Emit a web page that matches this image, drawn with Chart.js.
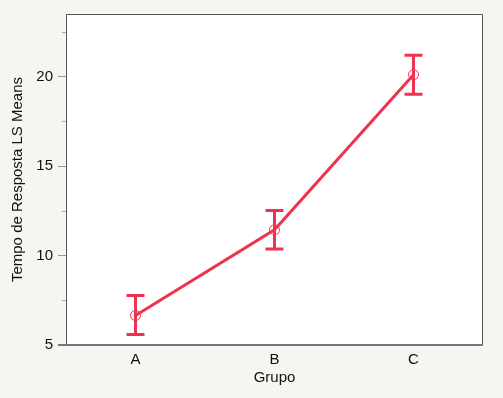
<!DOCTYPE html>
<html>
<head>
<meta charset="utf-8">
<script src="https://cdn.jsdelivr.net/npm/chart.js@4"></script>
<style>
  html, body { margin: 0; padding: 0; background: #f5f5f1; }
  #wrap { width: 503px; height: 398px; }
</style>
</head>
<body>
<div id="wrap"><canvas id="chart"></canvas></div>
<script>
// Dados
const grupos = ['A', 'B', 'C'];
const medias = [6.65, 11.44, 20.11];
const limInf = [5.58, 10.36, 19.02];
const limSup = [7.76, 12.52, 21.19];
const ticksMenores = [7.5, 12.5, 17.5, 22.5];

const vermelho = '#ee3350';

// fundo e moldura da area do grafico
const moldura = {
    id: 'moldura',
    beforeDraw(chart) {
        const { ctx, chartArea: a } = chart;
        ctx.save();
        ctx.fillStyle = '#f5f5f1';
        ctx.fillRect(0, 0, chart.width, chart.height);
        ctx.fillStyle = '#ffffff';
        ctx.fillRect(a.left, a.top, a.right - a.left, a.bottom - a.top);
        ctx.restore();
    },
    afterDraw(chart) {
        const { ctx, chartArea: a, scales } = chart;
        ctx.save();
        ctx.strokeStyle = '#555555';
        ctx.lineWidth = 1;
        ctx.beginPath();
        ctx.moveTo(a.left + 0.5, a.bottom);
        ctx.lineTo(a.left + 0.5, a.top + 0.5);
        ctx.lineTo(a.right - 0.5, a.top + 0.5);
        ctx.lineTo(a.right - 0.5, a.bottom);
        ctx.stroke();
        ctx.strokeStyle = '#777777';
        ctx.lineWidth = 2;
        ctx.beginPath();
        ctx.moveTo(a.left - 8, a.bottom);
        ctx.lineTo(a.right, a.bottom);
        ctx.stroke();
        // ticks menores
        ctx.strokeStyle = '#aaaaaa';
        ctx.lineWidth = 1;
        ticksMenores.forEach(v => {
            const y = Math.round(scales.y.getPixelForValue(v)) + 0.5;
            ctx.beginPath();
            ctx.moveTo(a.left - 4, y);
            ctx.lineTo(a.left, y);
            ctx.stroke();
        });
        ctx.restore();
    }
};

// barras de erro
const barrasErro = {
    id: 'barrasErro',
    afterDatasetsDraw(chart) {
        const { ctx, scales } = chart;
        ctx.save();
        ctx.strokeStyle = vermelho;
        ctx.lineWidth = 3;
        grupos.forEach((g, i) => {
            const x = scales.x.getPixelForValue(i);
            const y1 = scales.y.getPixelForValue(limInf[i]);
            const y2 = scales.y.getPixelForValue(limSup[i]);
            ctx.beginPath();
            ctx.moveTo(x, y1);
            ctx.lineTo(x, y2);
            ctx.moveTo(x - 9, y1);
            ctx.lineTo(x + 9, y1);
            ctx.moveTo(x - 9, y2);
            ctx.lineTo(x + 9, y2);
            ctx.stroke();
        });
        ctx.restore();
    }
};

Chart.defaults.font.family = '"Liberation Sans", Arial, sans-serif';
Chart.defaults.font.size = 15;
Chart.defaults.color = '#111111';

new Chart(document.getElementById('chart'), {
    type: 'line',
    data: {
        labels: grupos,
        datasets: [{
            data: medias,
            borderColor: vermelho,
            borderWidth: 3,
            pointRadius: 5,
            pointBorderWidth: 1,
            pointBorderColor: vermelho,
            pointBackgroundColor: 'rgba(0,0,0,0)',
            tension: 0
        }]
    },
    options: {
        animation: false,
        responsive: true,
        maintainAspectRatio: false,
        layout: { padding: { top: 11, right: 20, left: 0, bottom: 0 } },
        plugins: { legend: { display: false }, tooltip: { enabled: false } },
        scales: {
            x: {
                offset: true,
                grid: { display: false, drawTicks: false },
                border: { display: false },
                ticks: { padding: 6 },
                title: { display: true, text: 'Grupo', padding: { top: 1, bottom: 11 } },
                afterFit(scale) { scale.height = 53; }
            },
            y: {
                min: 5,
                max: 23.5,
                grid: { drawOnChartArea: false, tickLength: 8, color: '#999999' },
                border: { display: false },
                ticks: { stepSize: 5, includeBounds: false, padding: 5 },
                title: { display: true, text: 'Tempo de Resposta LS Means', padding: { top: 9, bottom: 6 } },
                afterFit(scale) { scale.width = 66; }
            }
        }
    },
    plugins: [moldura, barrasErro]
});
</script>
</body>
</html>
